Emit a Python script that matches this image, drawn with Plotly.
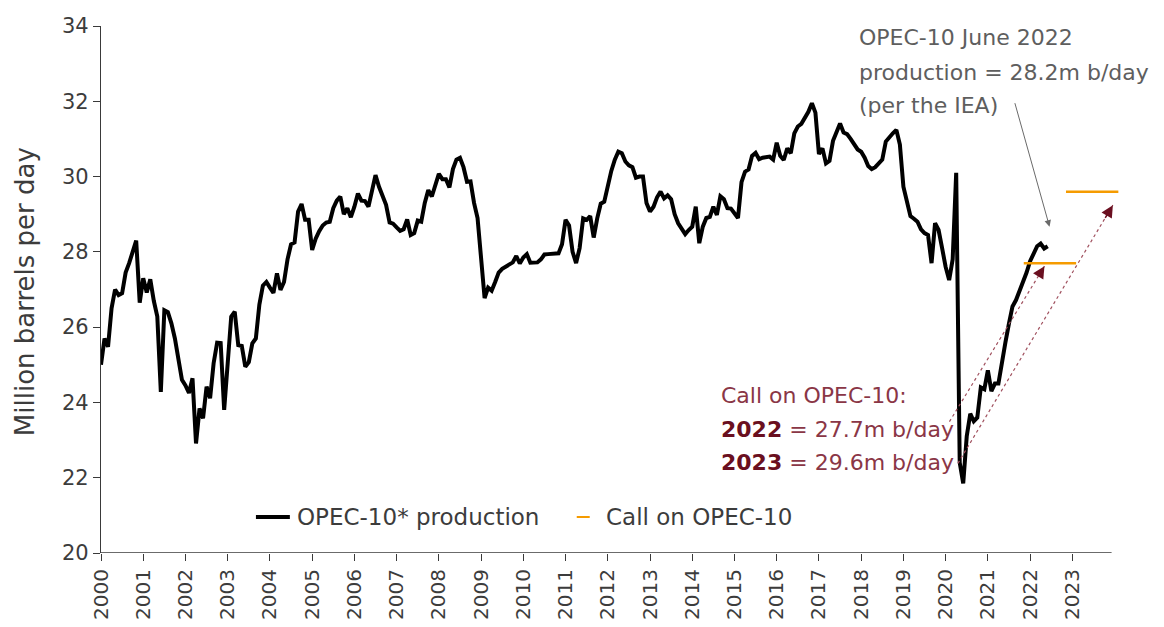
import plotly.graph_objects as go

# ---------------- data ----------------
years = list(range(2000, 2023))
prod = {
    2000: [25.0, 25.7, 25.48, 26.5, 27.0, 26.85, 26.9, 27.45, 27.7, 28.05, 28.3, 26.65],
    2001: [27.3, 26.92, 27.27, 26.7, 26.28, 24.28, 26.45, 26.4, 26.1, 25.7, 25.1, 24.6],
    2002: [24.45, 24.25, 24.64, 22.91, 23.84, 23.58, 24.42, 24.11, 25.04, 25.59, 25.58, 23.8],
    2003: [25.04, 26.28, 26.41, 25.52, 25.5, 24.95, 25.07, 25.57, 25.7, 26.6, 27.1, 27.2],
    2004: [27.05, 26.91, 27.43, 26.99, 27.2, 27.8, 28.2, 28.25, 29.07, 29.27, 28.85, 28.85],
    2005: [28.05, 28.35, 28.55, 28.7, 28.78, 28.8, 29.16, 29.36, 29.47, 29.0, 29.16, 28.92],
    2006: [29.2, 29.55, 29.36, 29.35, 29.2, 29.6, 30.04, 29.73, 29.5, 29.25, 28.78, 28.75],
    2007: [28.65, 28.56, 28.6, 28.86, 28.45, 28.5, 28.83, 28.8, 29.3, 29.64, 29.47, 29.75],
    2008: [30.07, 29.93, 29.93, 29.71, 30.2, 30.45, 30.5, 30.25, 29.86, 29.87, 29.3, 28.9],
    2009: [27.9, 26.77, 27.05, 26.97, 27.2, 27.45, 27.55, 27.6, 27.65, 27.72, 27.89, 27.69],
    2010: [27.85, 27.94, 27.71, 27.72, 27.72, 27.8, 27.93, 27.94, 27.94, 27.95, 27.96, 28.2],
    2011: [28.85, 28.7, 28.0, 27.7, 28.1, 28.89, 28.85, 28.95, 28.38, 28.89, 29.28, 29.33],
    2012: [29.8, 30.15, 30.45, 30.66, 30.62, 30.4, 30.3, 30.25, 29.97, 30.0, 30.0, 29.3],
    2013: [29.07, 29.2, 29.45, 29.6, 29.42, 29.5, 29.4, 29.0, 28.76, 28.63, 28.47, 28.58],
    2014: [28.67, 29.2, 28.23, 28.67, 28.9, 28.93, 29.2, 28.98, 29.48, 29.4, 29.16, 29.15],
    2015: [29.02, 28.9, 29.85, 30.13, 30.19, 30.55, 30.63, 30.46, 30.5, 30.51, 30.53, 30.45],
    2016: [30.9, 30.55, 30.44, 30.75, 30.62, 31.15, 31.33, 31.4, 31.55, 31.72, 31.95, 31.7],
    2017: [30.6, 30.75, 30.35, 30.42, 30.95, 31.2, 31.41, 31.17, 31.13, 31.0, 30.85, 30.72],
    2018: [30.66, 30.5, 30.28, 30.2, 30.25, 30.37, 30.45, 30.93, 31.05, 31.15, 31.24, 30.85],
    2019: [29.73, 29.3, 28.95, 28.88, 28.8, 28.6, 28.5, 28.45, 27.7, 28.76, 28.58, 28.1],
    2020: [27.6, 27.25, 27.8, 30.1, 22.4, 21.85, 23.1, 23.7, 23.5, 23.6, 24.4, 24.35],
    2021: [24.85, 24.3, 24.5, 24.5, 25.1, 25.6, 26.1, 26.55, 26.72, 26.95, 27.2, 27.45],
    2022: [27.75, 27.98, 28.15, 28.22, 28.09, 28.15],
}
call_years = [2022, 2023]
call_values = [27.7, 29.6]
tick_years = list(range(2000, 2024))
tick_labels = [str(y) for y in tick_years]

# ---------------- build ----------------
x_prod, y_prod = [], []
for yr in years:
    for m, v in enumerate(prod[yr]):
        x_prod.append(yr + m / 12)
        y_prod.append(v)

FONT = "DejaVu Sans"
TXT = "#3c3c3c"
MAROON = "#8a3646"
DARK_MAROON = "#6a0f20"
ORANGE = "#F59B00"

fig = go.Figure()
fig.add_trace(go.Scatter(x=x_prod, y=y_prod, mode="lines",
                         line=dict(color="black", width=4),
                         name="OPEC-10* production", showlegend=False))

cx, cy = [], []
for yr, v in zip(call_years, call_values):
    cx += [yr - 0.15, yr + 1.09, None]
    cy += [v, v, None]
fig.add_trace(go.Scatter(x=cx, y=cy, mode="lines",
                         line=dict(color=ORANGE, width=2.5),
                         name="Call on OPEC-10", showlegend=False))

# bottom axis line (ends short of the plotting area)
fig.add_shape(type="line", xref="x", yref="y", x0=2000, x1=2023.93, y0=20, y1=20,
              line=dict(color="#3a3a3a", width=1.3))

# dotted arrows toward the call levels
arrows = [((2020.09, 23.49), (2022.34, 27.62)),
          ((2020.29, 22.38), (2023.96, 29.24))]
for (x0, y0), (x1, y1) in arrows:
    fig.add_shape(type="line", xref="x", yref="y", x0=x0, y0=y0, x1=x1, y1=y1,
                  line=dict(color="#a0505e", width=1.2, dash="dot"))
    fr = 0.055
    fig.add_annotation(x=x1, y=y1, ax=x1 - (x1 - x0) * fr, ay=y1 - (y1 - y0) * fr,
                       xref="x", yref="y", axref="x", ayref="y", text="",
                       showarrow=True, arrowhead=2, arrowsize=1.6, arrowwidth=1.5,
                       arrowcolor=DARK_MAROON)

# IEA annotation arrow
fig.add_annotation(x=2022.46, y=28.67, ax=2021.63, ay=31.99,
                   xref="x", yref="y", axref="x", ayref="y", text="",
                   showarrow=True, arrowhead=2, arrowsize=1.3, arrowwidth=1,
                   arrowcolor="#6a6a6a")

GRAY = "#5e5e5e"
for txt, yp in [("OPEC-10 June 2022", 0.979),
                ("production = 28.2m b/day", 0.9127),
                ("(per the IEA)", 0.850)]:
    fig.add_annotation(xref="paper", yref="paper", x=0.7394, y=yp, text=txt,
                       showarrow=False, xanchor="left", yanchor="middle",
                       font=dict(family=FONT, size=22, color=GRAY))

for txt, yp in [("Call on OPEC-10:", 0.2998),
                (f"<b><span style='color:{DARK_MAROON}'>2022</span></b> = 27.7m b/day", 0.2334),
                (f"<b><span style='color:{DARK_MAROON}'>2023</span></b> = 29.6m b/day", 0.1708)]:
    fig.add_annotation(xref="paper", yref="paper", x=0.6044, y=yp, text=txt,
                       showarrow=False, xanchor="left", yanchor="middle",
                       font=dict(family=FONT, size=22, color=MAROON))

# manual legend
LY = 0.0683
fig.add_shape(type="line", xref="paper", yref="paper", x0=0.1516, x1=0.1848,
              y0=LY, y1=LY, line=dict(color="black", width=4))
fig.add_annotation(xref="paper", yref="paper", x=0.1898, y=LY,
                   text="OPEC-10* production", showarrow=False,
                   xanchor="left", yanchor="middle",
                   font=dict(family=FONT, size=23, color=TXT))
fig.add_shape(type="line", xref="paper", yref="paper", x0=0.4655, x1=0.4782,
              y0=LY, y1=LY, line=dict(color=ORANGE, width=2))
fig.add_annotation(xref="paper", yref="paper", x=0.4919, y=LY,
                   text="Call on OPEC-10", showarrow=False,
                   xanchor="left", yanchor="middle",
                   font=dict(family=FONT, size=23, color=TXT))

# y-axis title
fig.add_annotation(xref="paper", yref="paper", x=-0.0743, y=0.495,
                   text="Million barrels per day", textangle=-90, showarrow=False,
                   xanchor="center", yanchor="middle",
                   font=dict(family=FONT, size=26, color=TXT))

# page body adds an 8px offset; size the figure so the plot lands in place
fig.update_layout(
    width=1156, height=619,
    margin=dict(l=93, r=40.5, t=18, b=74, autoexpand=False),
    plot_bgcolor="white", paper_bgcolor="white",
    font=dict(family=FONT, color=TXT),
)
fig.update_xaxes(range=[2000, 2024.2], tickvals=tick_years, ticktext=tick_labels,
                 tickangle=-90, ticks="outside", ticklen=7, tickcolor="#3a3a3a",
                 tickwidth=1.3, showline=False, showgrid=False, zeroline=False,
                 tickfont=dict(family=FONT, size=20, color=TXT), automargin=False)
fig.update_yaxes(range=[20, 34], tickvals=list(range(20, 35, 2)),
                 ticks="outside", ticklen=7, tickcolor="#3a3a3a", tickwidth=1.3,
                 showline=True, linecolor="#3a3a3a", linewidth=1.3,
                 showgrid=False, zeroline=False,
                 tickfont=dict(family=FONT, size=21, color=TXT), automargin=False)

fig.write_html("out.html")
